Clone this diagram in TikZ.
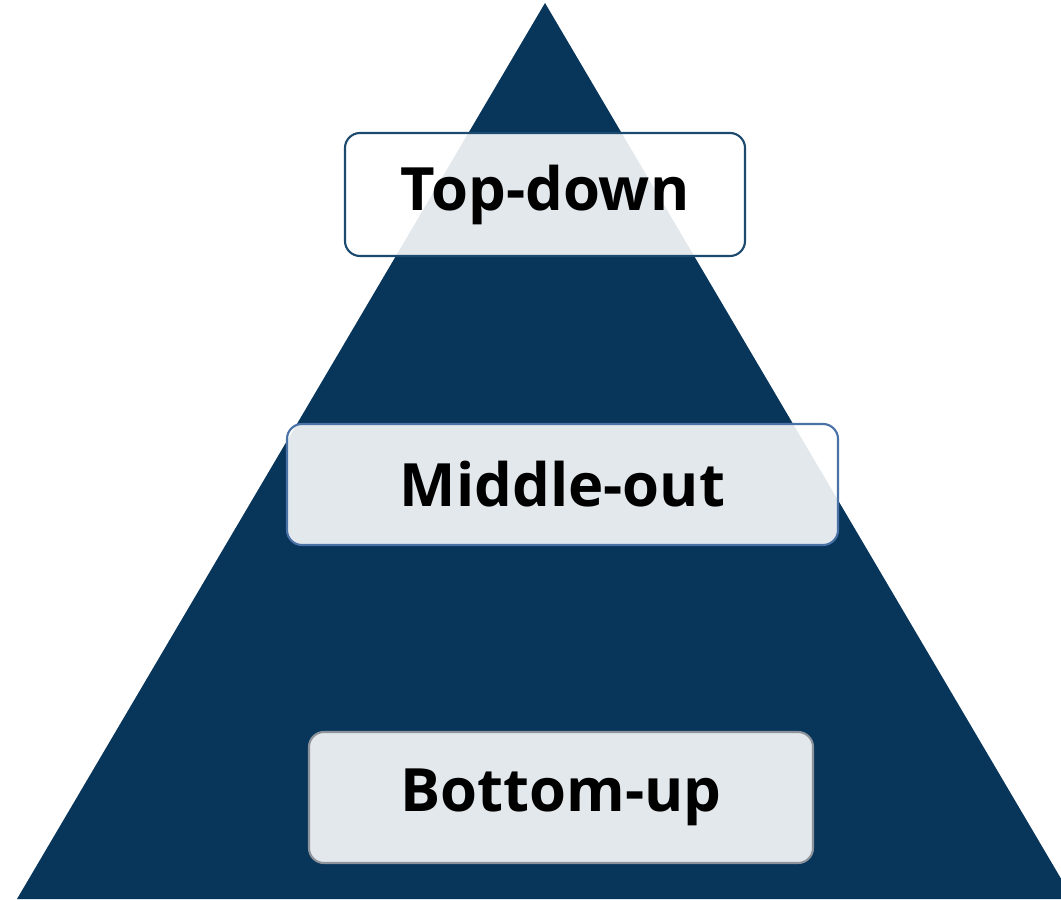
\documentclass[tikz,border=0pt]{standalone}
\usepackage{fontspec}
\setmainfont{Open Sans}
\usepackage{tikz}
\usetikzlibrary{positioning}
\definecolor{pyramidbg}{HTML}{08355A}
\definecolor{topedge}{HTML}{1B4A6E}
\definecolor{midedge}{HTML}{4A72A6}
\definecolor{botedge}{HTML}{8C939A}

\begin{document}
\begin{tikzpicture}[
  levelbox/.style={draw, line width=1.2pt, rounded corners=0.3cm, fill=white, fill opacity=0.89, text opacity=1,
    font=\fontsize{34}{38}\selectfont\bfseries, inner sep=0pt}
]
  \useasboundingbox (0, 0) rectangle (21.22, 17.98);
  \clip (0, 0) rectangle (21.22, 17.98);

  % Pyramid
  \fill[pyramidbg] (0.34, 0) -- (10.9, 17.92) -- (21.46, 0) -- cycle;

  % Levels
  \node[levelbox, draw=topedge, minimum width=8.0cm, minimum height=2.46cm] (topdown) at (10.9, 14.09) {Top-down};
  \node[levelbox, draw=midedge, minimum width=11.02cm, minimum height=2.42cm] (middleout) at (11.25, 8.29) {Middle-out};
  \node[levelbox, draw=botedge, minimum width=10.08cm, minimum height=2.62cm] (bottomup) at (11.22, 2.03) {Bottom-up};
\end{tikzpicture}
\end{document}
